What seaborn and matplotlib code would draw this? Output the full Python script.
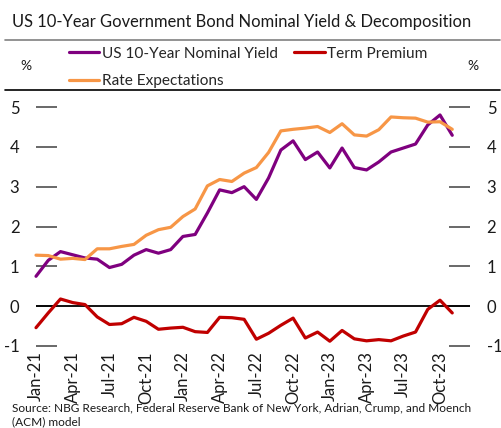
import matplotlib
matplotlib.use("Agg")
import matplotlib.pyplot as plt
from matplotlib.lines import Line2D
import numpy as np
import pandas as pd
import seaborn as sns

# Monthly observations, Jan-2021 .. Nov-2023 (%)
months = pd.date_range("2021-01-01", "2023-11-01", freq="MS").strftime("%b-%y").tolist()

nominal_yield = [0.75, 1.15, 1.37, 1.29, 1.21, 1.18, 0.97, 1.05, 1.28, 1.42, 1.33, 1.42,
                 1.75, 1.80, 2.34, 2.92, 2.85, 3.00, 2.68, 3.22, 3.92, 4.15, 3.68, 3.87,
                 3.47, 3.97, 3.48, 3.42, 3.62, 3.87, 3.97, 4.07, 4.55, 4.80, 4.29]

term_premium = [-0.54, -0.17, 0.18, 0.09, 0.04, -0.27, -0.46, -0.44, -0.28, -0.38, -0.58, -0.55,
                -0.53, -0.64, -0.66, -0.28, -0.29, -0.33, -0.83, -0.68, -0.48, -0.30, -0.80, -0.65,
                -0.88, -0.61, -0.82, -0.87, -0.84, -0.87, -0.75, -0.65, -0.08, 0.15, -0.17]

rate_expectations = [1.28, 1.27, 1.18, 1.20, 1.17, 1.44, 1.44, 1.50, 1.55, 1.78, 1.92, 1.98,
                     2.25, 2.44, 3.02, 3.18, 3.13, 3.34, 3.48, 3.86, 4.40, 4.44, 4.47, 4.51,
                     4.36, 4.58, 4.30, 4.27, 4.43, 4.75, 4.73, 4.72, 4.62, 4.63, 4.44]

series_names = ["US 10-Year Nominal Yield", "Rate Expectations", "Term Premium"]
series_colors = ["#7F007F", "#F79646", "#C00000"]

y_ticks = [-1, 0, 1, 2, 3, 4, 5]
x_tick_labels = months[::3]

title = "US 10-Year Government Bond Nominal Yield & Decomposition"
source = ("Source: NBG Research, Federal Reserve Bank of New York, Adrian, Crump, and Moench\n"
          "(ACM) model")

df = pd.DataFrame({
    "month": list(range(len(months))) * 3,
    "value": nominal_yield + rate_expectations + term_premium,
    "series": [series_names[0]] * len(months) + [series_names[1]] * len(months)
              + [series_names[2]] * len(months),
})

sns.set_theme(style="white")
plt.rcParams["font.family"] = ["Lato", "DejaVu Sans"]

W, H = 502, 428
fig = plt.figure(figsize=(W / 100, H / 100), dpi=100)
ax = fig.add_axes([36 / W, 1 - 346 / H, (470 - 36) / W, (346 - 107) / H])

sns.lineplot(data=df, x="month", y="value", hue="series", hue_order=series_names,
             palette=dict(zip(series_names, series_colors)), linewidth=2.3,
             legend=False, ax=ax, clip_on=False)

ax.axhline(0, color="black", lw=1.3, zorder=1)

ax.set_xlim(0, 35.45)
ax.set_ylim(-1, 5)
ax.set_xlabel("")
ax.set_ylabel("")
for s in ax.spines.values():
    s.set_visible(False)

ax.set_xticks(range(0, len(months), 3))
ax.set_xticklabels(x_tick_labels, rotation=90, fontsize=12, color="#1a1a1a")
ax.tick_params(axis="x", length=0, pad=4)

ax.set_yticks(y_ticks)
ax.set_yticklabels([str(t) for t in y_ticks])
ax.tick_params(axis="y", left=True, right=True, labelleft=True, labelright=True,
               direction="in", length=15, width=1.1, color="#404040",
               labelsize=12, labelcolor="#1a1a1a")
ax.tick_params(axis="y", which="major", pad=12)

# Legend in two columns above the plot
handles = [Line2D([], [], color=c, lw=2.3) for c in series_colors]
fig.legend(handles, series_names, ncol=2, loc="upper left",
           bbox_to_anchor=(64 / W, 1 - 42 / H), frameon=False, fontsize=11.1,
           handlelength=2.0, handletextpad=0.15, columnspacing=1.05,
           labelspacing=0.9, borderaxespad=0, borderpad=0.3)

fig.text(26 / W, 1 - 66 / H, "%", ha="center", va="center", fontsize=10, color="#1a1a1a")
fig.text(473 / W, 1 - 66 / H, "%", ha="center", va="center", fontsize=10, color="#1a1a1a")

fig.text(12 / W, 1 - 22 / H, title, ha="left", va="center", fontsize=11.9, color="#1a1a1a")
fig.add_artist(Line2D([5 / W, 500 / W], [1 - 40 / H, 1 - 40 / H], color="#808080", lw=1.2))
fig.add_artist(Line2D([5 / W, 500 / W], [1 - 90 / H, 1 - 90 / H], color="black", lw=1.2))

fig.text(12 / W, 1 - 403 / H, source, ha="left", va="top", fontsize=8.6,
         color="#1a1a1a", linespacing=1.25)

fig.savefig("out.png", dpi=100)
